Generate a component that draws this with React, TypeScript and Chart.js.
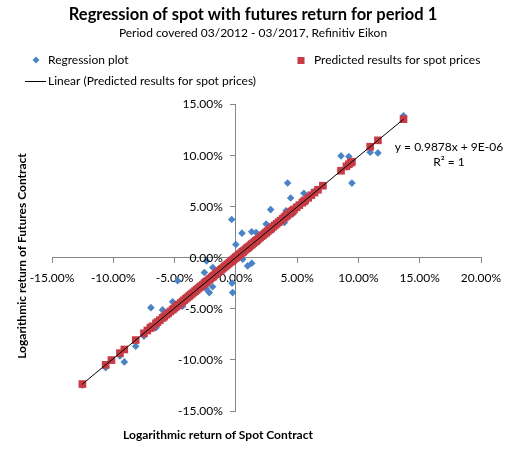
import React, { useEffect, useRef } from 'react';
import { Chart, registerables } from 'chart.js';

Chart.register(...registerables);

// Log returns in percent: spot (x) against futures (y)
const spotReturns = [
  -12.52, -10.62, -10.15, -9.46, -9.10, -8.17,
  -7.50, -7.22, -6.98, -6.93, -6.80, -6.52, -6.39, -6.20, -5.98, -5.85, -5.66, -5.52, -5.34, -5.16,
  -5.05, -4.90, -4.75, -4.66, -4.50, -4.35, -4.22, -4.08, -3.95, -3.82, -3.70, -3.58, -3.45, -3.32,
  -3.20, -3.07, -2.95, -2.83, -2.70, -2.57, -2.50, -2.44, -2.39, -2.30, -2.17, -2.10, -1.98, -1.90,
  -1.88, -1.78, -1.66, -1.55, -1.44, -1.33, -1.22, -1.12, -1.01, -0.91, -0.81, -0.71, -0.61, -0.51,
  -0.41, -0.34, -0.31, -0.26, -0.20, -0.11, -0.03,
  0.00, 0.05, 0.14, 0.23, 0.32, 0.41, 0.50, 0.56, 0.60, 0.69, 0.79, 0.89, 0.96, 0.99, 1.09, 1.19,
  1.29, 1.30, 1.41, 1.52, 1.63, 1.65, 1.74, 1.86, 1.98, 2.10, 2.22, 2.35, 2.47, 2.48, 2.61, 2.75,
  2.84, 2.89, 3.03, 3.18, 3.33, 3.49, 3.65, 3.82, 3.96, 3.99, 4.10, 4.17, 4.22, 4.36, 4.47, 4.55,
  4.64, 4.75, 4.96, 5.18, 5.42, 5.55, 5.66, 5.90, 6.16, 6.42, 6.70, 7.10,
  8.58, 9.02, 9.22, 9.38, 9.47, 10.96, 11.59, 13.68,
];

const futuresReturns = [
  -12.47, -10.76, -10.05, -9.62, -10.20, -8.67,
  -7.68, -7.10, -6.95, -4.90, -6.72, -6.86, -6.30, -6.28, -5.12, -5.78, -5.74, -5.40, -5.38, -4.32,
  -5.14, -4.80, -2.26, -4.74, -4.42, -4.76, -4.14, -4.16, -3.85, -3.90, -3.56, -3.68, -3.32, -3.42,
  -3.08, -3.16, -2.82, -2.94, -2.58, -1.47, -2.62, -3.04, -0.33, -2.20, -3.43, -2.18, -1.86, -2.86,
  -0.98, -1.66, -1.78, -1.44, -1.56, -1.22, -1.34, -1.00, -1.12, -0.80, -0.94, -0.58, -0.72, -0.42,
  -0.52, 3.71, -2.50, -3.43, -0.30, -0.04, -0.12,
  1.27, 0.14, 0.04, 0.33, 0.22, 0.50, 2.38, -0.17, 0.70, 0.57, 0.88, 0.78, -0.82, 1.10, 0.97, 1.28,
  2.51, -0.56, 1.52, 1.40, 1.74, 2.45, 1.62, 1.97, 1.84, 2.22, 2.09, 2.46, 3.27, 2.36, 2.72, 2.63,
  4.68, 3.00, 2.90, 3.28, 3.20, 3.58, 3.52, 3.92, 3.43, 3.88, 4.57, 4.26, 7.28, 4.24, 5.82, 4.66,
  4.25, 4.64, 5.06, 5.08, 5.52, 6.28, 5.56, 6.00, 6.06, 6.48, 6.60, 7.02,
  9.93, 8.85, 9.86, 9.30, 7.27, 10.29, 10.22, 13.85,
];

// Fitted trendline y = 0.9878x + 9E-06 (intercept expressed in percent points)
const TREND_SLOPE = 0.9878;
const TREND_INTERCEPT = 0.0009;

const X_RANGE = [-15, 20];
const Y_RANGE = [-15, 15];
const TICK_STEP = 5;

const TITLE = 'Regression of spot with futures return for period 1';
const SUBTITLE = 'Period covered 03/2012 - 03/2017, Refinitiv Eikon';
const SERIES_ACTUAL = 'Regression plot';
const SERIES_PREDICTED = 'Predicted results for spot prices';
const SERIES_TREND = 'Linear (Predicted results for spot prices)';
const EQUATION = 'y = 0.9878x + 9E-06';
const R_SQUARED = 'R² = 1';
const X_TITLE = 'Logarithmic return of Spot Contract';
const Y_TITLE = 'Logarithmic return of Futures Contract';

const FONT = "Lato, 'DejaVu Sans', sans-serif";
const BLUE = '#4A84C6';
const RED = '#C63B44';
const AXIS = '#868686';

const predict = (x: number) => TREND_SLOPE * x + TREND_INTERCEPT;
const tickFormat = (v: any) => Number(v).toFixed(2) + '%';

const textPlugin = {
  id: 'chartText',
  afterDraw(chart: any) {
    const ctx: CanvasRenderingContext2D = chart.ctx;
    ctx.save();
    ctx.fillStyle = '#000';
    ctx.textBaseline = 'middle';

    // y tick labels, right-aligned to the left of the crossing axis
    const xs = chart.scales.x;
    const ys = chart.scales.y;
    const axisX = xs.getPixelForValue(0);
    ctx.font = `12px ${FONT}`;
    ctx.textAlign = 'right';
    ys.ticks.forEach((t: any) => {
      ctx.fillText(tickFormat(t.value), axisX - 13, ys.getPixelForValue(t.value) + 0.5);
    });

    // title and subtitle
    ctx.textAlign = 'center';
    ctx.font = `bold 16.5px ${FONT}`;
    ctx.fillText(TITLE, 253, 15);
    ctx.font = `12px ${FONT}`;
    ctx.fillText(SUBTITLE, 253, 33);

    // legend
    ctx.textAlign = 'left';
    ctx.font = `12px ${FONT}`;
    ctx.fillStyle = BLUE;
    ctx.beginPath();
    ctx.moveTo(36, 56.5);
    ctx.lineTo(39.5, 60);
    ctx.lineTo(36, 63.5);
    ctx.lineTo(32.5, 60);
    ctx.closePath();
    ctx.fill();
    ctx.fillStyle = '#000';
    ctx.fillText(SERIES_ACTUAL, 48, 60);

    ctx.fillStyle = RED;
    ctx.fillRect(297.5, 57, 7, 7);
    ctx.fillStyle = '#000';
    ctx.fillText(SERIES_PREDICTED, 314, 60);

    ctx.strokeStyle = '#000';
    ctx.lineWidth = 1;
    ctx.beginPath();
    ctx.moveTo(25, 81.5);
    ctx.lineTo(46, 81.5);
    ctx.stroke();
    ctx.fillText(SERIES_TREND, 48, 81);

    // trendline equation
    ctx.textAlign = 'center';
    ctx.fillText(EQUATION, 449, 147);
    ctx.fillText(R_SQUARED, 449, 162);

    // axis titles
    ctx.font = `bold 12px ${FONT}`;
    ctx.fillText(X_TITLE, 218, 435);
    ctx.translate(22, 256);
    ctx.rotate(-Math.PI / 2);
    ctx.fillText(Y_TITLE, 0, 0);
    ctx.restore();
  },
};

export default function App() {
  const canvasRef = useRef<HTMLCanvasElement | null>(null);

  useEffect(() => {
    if (!canvasRef.current) return;
    const actual = spotReturns.map((x, i) => ({ x, y: futuresReturns[i] }));
    const predicted = spotReturns.map((x) => ({ x, y: predict(x) }));
    const xMin = Math.min(...spotReturns);
    const xMax = Math.max(...spotReturns);
    const trend = [
      { x: xMin, y: predict(xMin) },
      { x: xMax, y: predict(xMax) },
    ];

    const tickFont = { family: FONT, size: 12 };

    const chart = new Chart(canvasRef.current, {
      type: 'scatter',
      data: {
        datasets: [
          {
            label: SERIES_TREND,
            data: trend,
            type: 'line',
            showLine: true,
            borderColor: '#000',
            borderWidth: 1,
            pointRadius: 0,
            order: 0,
          },
          {
            label: SERIES_PREDICTED,
            data: predicted,
            pointStyle: 'rect',
            pointRadius: 5.4,
            backgroundColor: RED,
            borderColor: RED,
            borderWidth: 0,
            order: 1,
          },
          {
            label: SERIES_ACTUAL,
            data: actual,
            pointStyle: 'rectRot',
            pointRadius: 3.8,
            backgroundColor: BLUE,
            borderColor: BLUE,
            borderWidth: 0,
            order: 2,
          },
        ] as any,
      },
      options: {
        responsive: false,
        animation: false,
        events: [],
        layout: { padding: { left: 52, right: 32, top: 104, bottom: 45 } },
        plugins: {
          legend: { display: false },
          title: { display: false },
          tooltip: { enabled: false },
        },
        scales: {
          x: {
            type: 'linear',
            min: X_RANGE[0],
            max: X_RANGE[1],
            position: { y: 0 } as any,
            ticks: {
              stepSize: TICK_STEP,
              callback: tickFormat,
              color: '#000',
              font: tickFont,
              padding: 8,
              maxRotation: 0,
              autoSkip: false,
            },
            grid: { drawOnChartArea: false, drawTicks: true, tickLength: 5, color: AXIS },
            border: { display: true, color: AXIS },
          },
          y: {
            type: 'linear',
            min: Y_RANGE[0],
            max: Y_RANGE[1],
            position: { x: 0 } as any,
            ticks: {
              stepSize: TICK_STEP,
              display: false,
              autoSkip: false,
            },
            grid: { drawOnChartArea: false, drawTicks: true, tickLength: 5, color: AXIS },
            border: { display: true, color: AXIS },
          },
        },
      },
      plugins: [textPlugin],
    });
    return () => chart.destroy();
  }, []);

  return (
    <div style={{ position: 'absolute', left: 0, top: 0, width: 513, height: 456, background: '#fff' }}>
      <canvas ref={canvasRef} width={513} height={456} style={{ display: 'block' }} />
    </div>
  );
}
